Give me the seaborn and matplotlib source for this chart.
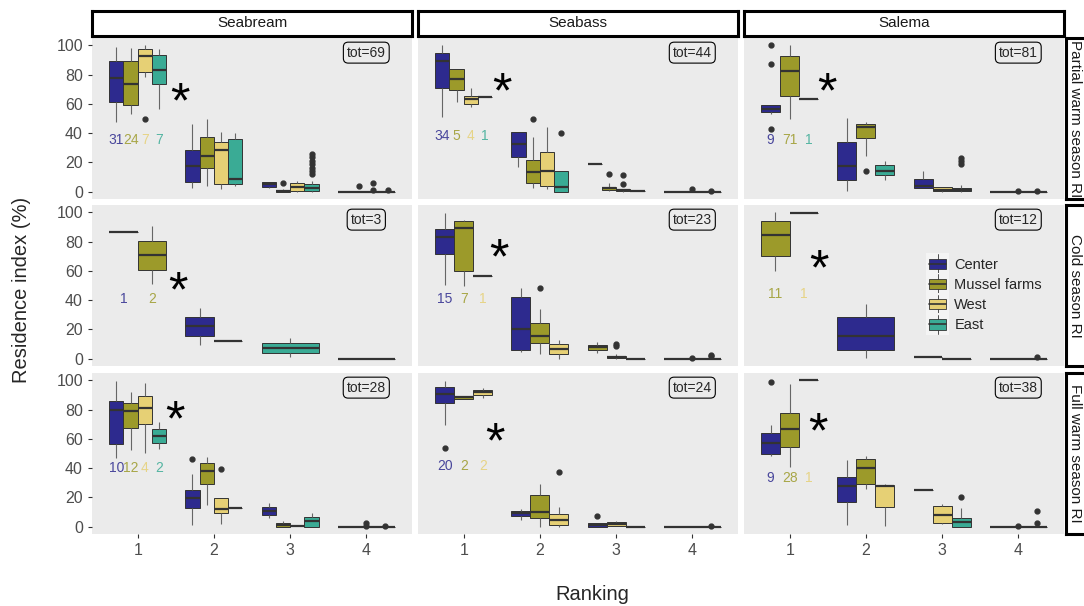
import pandas as pd
import numpy as np
import seaborn as sns
import matplotlib.pyplot as plt
from matplotlib.patches import Rectangle, Patch
from matplotlib.lines import Line2D
from matplotlib.legend_handler import HandlerBase

species = ['Seabream', 'Seabass', 'Salema']
seasons = ['Partial warm season RI', 'Cold season RI', 'Full warm season RI']
ranks = [1, 2, 3, 4]
sites = ['Center', 'Mussel farms', 'West', 'East']
site_codes = ['C', 'M', 'W', 'E']
site_colors = ['#2D2A8E', '#9C9A2A', '#E6D075', '#3AAB95']

# boxes: (rank, site, [low whisker, q1, median, q3, high whisker] or [single value], outliers)
seabream_partial = [
    (1, 'C', [47.6, 61.4, 77.5, 89.5, 98.9], []),
    (1, 'M', [53.3, 59.3, 73.6, 89.0, 98.5], []),
    (1, 'W', [78.6, 82.0, 92.4, 97.5, 100.0], [49.4]),
    (1, 'E', [56.8, 73.6, 83.2, 93.6, 97.5], []),
    (2, 'C', [2.3, 6.9, 17.7, 28.7, 46.0], []),
    (2, 'M', [3.9, 16.1, 24.1, 37.5, 49.9], []),
    (2, 'W', [1.6, 5.0, 28.7, 34.0, 41.0], []),
    (2, 'E', [3.9, 5.0, 9.0, 36.3, 40.0], []),
    (3, 'C', [2.5, 3.0, 5.0, 6.5, 6.7], []),
    (3, 'M', [0.0, 0.0, 0.5, 1.2, 1.5], [6.2]),
    (3, 'W', [0.0, 0.5, 3.2, 6.2, 7.4], []),
    (3, 'E', [0.0, 0.5, 2.3, 5.0, 7.4], [12.0, 14.3, 16.5, 18.9, 21.0, 23.4, 25.7]),
    (4, 'C', [0.0], []),
    (4, 'M', [0.0], [4.0]),
    (4, 'W', [0.0], [1.0, 6.2]),
    (4, 'E', [0.0], [1.0]),
]
seabass_partial = [
    (1, 'C', [51.0, 71.0, 89.4, 95.0, 100.0], []),
    (1, 'M', [61.4, 69.4, 76.8, 84.0, 84.0], []),
    (1, 'W', [58.0, 59.8, 63.0, 65.5, 70.6], []),
    (1, 'E', [64.6], []),
    (2, 'C', [17.2, 23.4, 32.6, 40.7, 40.7], []),
    (2, 'M', [2.8, 6.2, 13.6, 21.6, 37.2], [49.9]),
    (2, 'W', [1.6, 3.9, 13.8, 26.9, 44.0], []),
    (2, 'E', [0.0, 0.0, 3.2, 13.8, 13.8], [40.0]),
    (3, 'C', [18.9], []),
    (3, 'M', [0.5, 1.1, 2.3, 3.4, 6.2], [12.0]),
    (3, 'W', [0.0, 0.5, 1.0, 1.5, 1.5], [5.0, 11.5]),
    (3, 'E', [0.5], []),
    (4, 'C', [0.0], []),
    (4, 'M', [0.0], [1.6]),
    (4, 'W', [0.0], [0.5]),
]
salema_partial = [
    (1, 'C', [52.9, 54.5, 56.8, 59.0, 59.0], [100.0, 87.4, 43.0]),
    (1, 'M', [49.9, 65.5, 82.5, 92.9, 100.0], []),
    (1, 'E', [63.4], []),
    (2, 'C', [0.5, 8.0, 17.7, 33.8, 50.6], []),
    (2, 'M', [24.1, 36.6, 44.0, 46.4, 47.6], [14.3]),
    (2, 'E', [7.8, 11.3, 14.3, 18.4, 20.7], []),
    (3, 'C', [2.8, 2.8, 3.9, 8.5, 14.3], []),
    (3, 'W', [0.0, 0.5, 1.1, 3.4, 3.4], []),
    (3, 'E', [0.0, 0.5, 1.1, 2.3, 4.5], [18.9, 20.7, 23.0]),
    (4, 'C', [0.0], []),
    (4, 'W', [0.0], [0.8]),
    (4, 'E', [0.0], [0.8]),
]
seabream_cold = [
    (1, 'C', [86.4], []),
    (1, 'M', [50.9, 60.9, 71.0, 80.3, 90.5], []),
    (2, 'C', [9.5, 15.6, 22.4, 28.7, 34.4], []),
    (2, 'M', [12.0], []),
    (3, 'E', [1.1, 3.8, 7.2, 10.6, 14.0], []),
    (4, 'C', [0.0], []),
]
seabass_cold = [
    (1, 'C', [50.2, 71.3, 83.0, 88.7, 99.5], []),
    (1, 'M', [49.5, 60.0, 89.4, 94.3, 95.0], []),
    (1, 'W', [56.3], []),
    (2, 'C', [4.3, 5.7, 20.1, 42.3, 48.6], []),
    (2, 'M', [3.4, 10.6, 15.6, 24.7, 33.7], [48.0]),
    (2, 'W', [0.0, 3.4, 6.8, 10.2, 12.9], []),
    (3, 'M', [3.8, 5.7, 7.7, 9.5, 11.1], []),
    (3, 'W', [0.0, 0.5, 0.9, 2.0, 3.4], [8.8, 10.2]),
    (3, 'E', [0.0], []),
    (4, 'C', [0.0], []),
    (4, 'M', [0.0], [0.4]),
    (4, 'W', [0.0], [1.6, 2.7]),
]
salema_cold = [
    (1, 'M', [59.7, 70.1, 84.8, 94.3, 100.0], []),
    (1, 'W', [99.5], []),
    (2, 'C', [0.5, 5.7, 15.8, 28.7, 37.3], []),
    (3, 'C', [1.1], []),
    (3, 'W', [0.0], []),
    (4, 'C', [0.0], []),
    (4, 'W', [0.0], []),
    (4, 'E', [0.0], [1.1]),
]
seabream_full = [
    (1, 'C', [47.2, 56.2, 79.4, 86.2, 99.8], []),
    (1, 'M', [52.4, 67.1, 78.9, 84.6, 91.8], []),
    (1, 'W', [50.6, 70.3, 81.2, 89.1, 98.2], []),
    (1, 'E', [52.8, 57.4, 61.9, 66.9, 71.4], []),
    (2, 'C', [1.4, 12.5, 19.3, 25.2, 35.8], [46.5]),
    (2, 'M', [15.0, 29.5, 38.1, 43.8, 47.6], []),
    (2, 'W', [1.8, 9.1, 12.0, 19.3, 19.3], [39.7]),
    (2, 'E', [12.7], []),
    (3, 'C', [5.9, 7.9, 10.4, 13.2, 15.9], []),
    (3, 'M', [0.0, 0.0, 1.1, 2.3, 3.6], []),
    (3, 'W', [0.2], []),
    (3, 'E', [0.0, 0.0, 3.6, 6.8, 9.3], []),
    (4, 'C', [0.0], []),
    (4, 'M', [0.0], [0.6, 2.3]),
    (4, 'W', [0.0], [0.7]),
]
seabass_full = [
    (1, 'C', [69.4, 84.6, 90.9, 95.2, 99.3], [53.5]),
    (1, 'M', [87.3, 87.3, 88.4, 89.1, 89.1], []),
    (1, 'W', [88.0, 89.8, 92.0, 93.7, 95.0], []),
    (2, 'C', [4.5, 7.0, 9.3, 10.9, 12.0], []),
    (2, 'M', [0.0, 5.9, 9.8, 21.8, 29.0], []),
    (2, 'W', [0.0, 1.1, 4.8, 8.6, 13.2], [37.6]),
    (3, 'C', [0.0, 0.0, 1.4, 2.3, 2.3], [7.0]),
    (3, 'W', [0.7, 0.7, 1.8, 3.4, 4.1], []),
    (3, 'E', [0.0], []),
    (4, 'C', [0.0], []),
    (4, 'M', [0.0], []),
    (4, 'W', [0.0], [0.5]),
]
salema_full = [
    (1, 'C', [48.3, 49.4, 56.9, 64.2, 69.4], [98.6]),
    (1, 'M', [41.0, 54.6, 66.9, 77.8, 97.7], []),
    (1, 'W', [100.0], []),
    (2, 'C', [1.4, 16.6, 27.7, 34.0, 45.6], []),
    (2, 'M', [25.6, 29.5, 39.9, 46.5, 48.3], []),
    (2, 'W', [0.7, 13.6, 27.7, 28.6, 29.0], []),
    (3, 'C', [25.2], []),
    (3, 'W', [2.0, 2.3, 8.2, 13.8, 15.4], []),
    (3, 'E', [0.0, 0.0, 3.4, 5.9, 13.0], [20.0]),
    (4, 'C', [0.0], []),
    (4, 'W', [0.0], [0.4]),
    (4, 'E', [0.0], [2.3, 10.9]),
]

# panel order: rows = seasons, columns = species
panels = [seabream_partial, seabass_partial, salema_partial,
          seabream_cold, seabass_cold, salema_cold,
          seabream_full, seabass_full, salema_full]
tot_n = [69, 44, 81, 3, 23, 12, 28, 24, 38]
rank1_counts = [[31, 24, 7, 7], [34, 5, 4, 1], [9, 71, 1],
                [1, 2], [15, 7, 1], [11, 1],
                [10, 12, 4, 2], [20, 2, 2], [9, 28, 1]]
count_y = [35, 38, 35, 41, 41, 44, 40.4, 41.5, 33.6]
star_x = [0.55, 0.5, 0.49, 0.53, 0.46, 0.38, 0.49, 0.41, 0.37]
star_y = [66, 73, 73, 51.4, 74, 66, 77.8, 63, 69.8]

code2site = dict(zip(site_codes, sites))
palette = dict(zip(sites, site_colors))


def pseudo_obs(stats, outliers, k=10):
    # repeat the quartiles so seaborn's own box statistics give back the read values
    if len(stats) == 1:
        stats = stats * 5
    lo, q1, med, q3, hi = stats
    return [lo] + [q1] * k + [med] * k + [q3] * k + [hi] + list(outliers)


def panel_frame(boxes):
    rows = []
    for rank, code, stats, outl in boxes:
        for v in pseudo_obs(stats, outl):
            rows.append({'rank': rank, 'site': code2site[code], 'ri': v})
    return pd.DataFrame(rows)


class BoxKey(HandlerBase):
    def create_artists(self, legend, orig_handle, xdescent, ydescent, width, height, fontsize, trans):
        x0, y0 = -xdescent, -ydescent
        cx = x0 + width / 2
        bg = Rectangle((x0 - 2, y0 - 0.55 * height), width + 4, 2.1 * height,
                       facecolor='#F4F4F4', edgecolor='none', transform=trans)
        whisk = Line2D([cx, cx], [y0 - 0.4 * height, y0 + 1.4 * height], color='#333333', lw=0.6, transform=trans)
        box = Rectangle((x0, y0), width, height, facecolor=orig_handle.get_facecolor(),
                        edgecolor='#333333', lw=0.6, transform=trans)
        med = Line2D([x0, x0 + width], [y0 + height / 2] * 2, color='#333333', lw=1.2, transform=trans)
        return [bg, whisk, box, med]


sns.set_style('dark', {'axes.facecolor': '#EBEBEB'})
plt.rcParams['font.family'] = ['Liberation Sans', 'DejaVu Sans']

W, H = 1084, 606
fig = plt.figure(figsize=(W / 100, H / 100), dpi=100)
col_left = [92, 418, 744]
col_w = 320
row_top = [38, 205, 373]
row_h = 161

for i, boxes in enumerate(panels):
    r, c = divmod(i, 3)
    ax = fig.add_axes([col_left[c] / W, 1 - (row_top[r] + row_h) / H, col_w / W, row_h / H])
    df = panel_frame(boxes)
    for rk in ranks:
        sub = df[df['rank'] == rk]
        present = [s for s in sites if s in set(sub['site'])]
        sns.boxplot(data=sub, x='rank', y='ri', hue='site', order=ranks, hue_order=present,
                    palette=palette, width=0.75, gap=0, dodge=True, saturation=1,
                    linecolor='#333333', linewidth=0.7, showcaps=False, fliersize=3.5,
                    flierprops=dict(marker='o', markerfacecolor='#333333', markeredgecolor='#333333'),
                    medianprops=dict(linewidth=1.6, color='#333333'),
                    whiskerprops=dict(color='#666666', linewidth=0.8),
                    legend=False, ax=ax)

    # counts under the rank-1 boxes
    first = [code2site[code] for rank, code, _, _ in boxes if rank == 1]
    n = len(first)
    for j, (s, cnt) in enumerate(zip(first, rank1_counts[i])):
        xpos = -0.375 + (j + 0.5) * 0.75 / n
        ax.text(xpos, count_y[i], str(cnt), color=palette[s], alpha=0.85,
                ha='center', va='center', fontsize=10)

    ax.annotate('*', (star_x[i], star_y[i]), xytext=(0, -7), textcoords='offset points',
                fontsize=36, ha='center', va='center', color='black')
    ax.text(3, 95, f'tot={tot_n[i]}', fontsize=10, ha='center', va='center',
            bbox=dict(boxstyle='round,pad=0.25,rounding_size=0.35', fc='none', ec='black', lw=0.8))

    ax.set_xlim(-0.6, 3.6)
    ax.set_ylim(-5, 105)
    ax.set_yticks([0, 20, 40, 60, 80, 100])
    ax.set_xlabel('')
    ax.set_ylabel('')
    ax.grid(False)
    for sp in ax.spines.values():
        sp.set_visible(False)
    ax.tick_params(axis='both', length=3, width=0.8, color='#333333', labelcolor='#4D4D4D', labelsize=11.5)
    ax.tick_params(axis='y', left=(c == 0), labelleft=(c == 0))
    ax.tick_params(axis='x', bottom=(r == 2), labelbottom=(r == 2))

    if i == 5:
        handles = [Patch(facecolor=col, label=s) for s, col in zip(sites, site_colors)]
        ax.legend(handles=handles, handler_map={Patch: BoxKey()}, loc='center left',
                  bbox_to_anchor=(0.555, 0.44), frameon=False, fontsize=10.5, borderpad=0,
                  handlelength=1.2, handleheight=0.75, labelspacing=0.42, handletextpad=0.55)

# facet strips
for c, name in enumerate(species):
    sa = fig.add_axes([col_left[c] / W, 1 - 35.5 / H, col_w / W, 25 / H])
    sa.set_facecolor('white')
    sa.set_xticks([])
    sa.set_yticks([])
    for sp in sa.spines.values():
        sp.set_visible(True)
        sp.set_color('black')
        sp.set_linewidth(2.2)
    sa.text(0.5, 0.5, name, ha='center', va='center', fontsize=11, color='#1A1A1A', transform=sa.transAxes)

for r, name in enumerate(seasons):
    sa = fig.add_axes([1066 / W, 1 - (row_top[r] + row_h) / H, 26 / W, row_h / H])
    sa.set_facecolor('white')
    sa.set_xticks([])
    sa.set_yticks([])
    for sp in sa.spines.values():
        sp.set_visible(True)
        sp.set_color('black')
        sp.set_linewidth(2.2)
    sa.text(0.36, 0.5, name, ha='center', va='center', rotation=270, fontsize=11,
            color='#1A1A1A', transform=sa.transAxes)

fig.text(22 / W, 1 - 290 / H, 'Residence index (%)', rotation=90, ha='center', va='center', fontsize=14.5)
fig.text(592 / W, 1 - 595 / H, 'Ranking', ha='center', va='center', fontsize=14.5)

fig.savefig('out.png', dpi=100)
